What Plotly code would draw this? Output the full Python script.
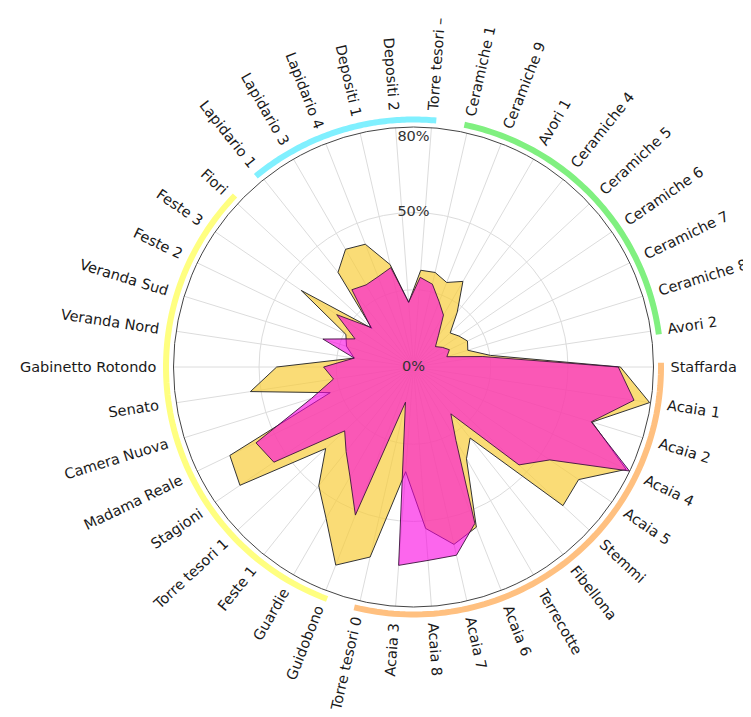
import numpy as np
import plotly.graph_objects as go

# categories clockwise, starting at 3 o'clock
CATEGORIES = [
    "Staffarda", "Acaia 1", "Acaia 2", "Acaia 4", "Acaia 5", "Stemmi", "Fibellona",
    "Terrecotte", "Acaia 6", "Acaia 7", "Acaia 8", "Acaia 3", "Torre tesori 0",
    "Guidobono", "Guardie", "Feste 1", "Torre tesori 1", "Stagioni", "Madama Reale",
    "Camera Nuova", "Senato", "Gabinetto Rotondo", "Veranda Nord", "Veranda Sud",
    "Feste 2", "Feste 3", "Fiori", "Lapidario 1", "Lapidario 3", "Lapidario 4",
    "Depositi 1", "Depositi 2", "Torre tesori –", "Ceramiche 1", "Ceramiche 9",
    "Avori 1", "Ceramiche 4", "Ceramiche 5", "Ceramiche 6", "Ceramiche 7",
    "Ceramiche 8", "Avori 2",
]

# percentages
SERIES_GOLD = [
    67.0, 77.3, 60.5, 76.4, 64.7, 66.0, 29.4, 34.3, 55.7, 58.9, 52.4, 34.0, 63.1,
    68.9, 56.6, 49.2, 38.8, 68.0, 66.0, 28.2, 53.4, 44.3, 19.4, 22.7, 24.3, 44.0,
    18.4, 39.2, 44.0, 42.7, 34.0, 21.0, 31.4, 31.4, 29.4, 32.0, 22.7, 16.2, 17.8,
    19.4, 18.4, 25.2,
]
SERIES_PINK = [
    66.3, 72.2, 60.2, 77.6, 53.4, 46.6, 19.4, 27.5, 54.4, 62.5, 62.8, 64.4, 11.7,
    51.5, 41.1, 35.0, 30.4, 54.7, 56.6, 34.6, 26.2, 29.1, 19.4, 30.7, 21.0, 30.1,
    18.8, 32.0, 30.7, 31.4, 33.0, 21.0, 29.1, 27.5, 22.7, 19.4, 12.9, 9.7, 11.3,
    12.9, 11.3, 22.7,
]

# outer arcs grouping the rooms
GROUPS = [
    ("Staffarda", "Torre tesori 0", "#FFC080"),
    ("Guidobono", "Fiori", "#FFFF80"),
    ("Lapidario 1", "Torre tesori –", "#80F0FF"),
    ("Ceramiche 1", "Avori 2", "#80F080"),
]

RADIAL_LABELS = [0, 50, 80]
GRID_RINGS = [25, 50]

W, H = 751, 717
PAGE_PAD = 8                           # default body margin of the html page
CX, CY = 413.5 - PAGE_PAD, 367 - PAGE_PAD
RADIUS = 240                           # px of the outer circle
ARC_RADIUS = 247.5                     # px of the group arcs
ARC_FRAME = 1.1                        # polar2 range beyond the arcs, avoids clipping
RMAX = 77.7                            # value at the outer circle
LABEL_R = 257                          # px where category labels start
FONT = "DejaVu Sans"

n = len(CATEGORIES)
step = 360 / n
theta = [i * step for i in range(n)]


def domain(rad):
    return dict(x=[(CX - rad) / W, (CX + rad) / W],
                y=[(H - CY - rad) / H, (H - CY + rad) / H])


fig = go.Figure()

fig.add_trace(go.Scatterpolar(
    r=SERIES_GOLD + SERIES_GOLD[:1], theta=theta + theta[:1],
    mode="lines", fill="toself",
    fillcolor="rgba(248,205,60,0.7)",
    line=dict(color="#333333", width=1),
    name="A", hoverinfo="skip",
))
fig.add_trace(go.Scatterpolar(
    r=SERIES_PINK + SERIES_PINK[:1], theta=theta + theta[:1],
    mode="lines", fill="toself",
    fillcolor="rgba(250,0,225,0.6)",
    line=dict(color="rgba(60,20,60,0.9)", width=1),
    name="B", hoverinfo="skip",
))

for first, last, color in GROUPS:
    i0, i1 = CATEGORIES.index(first), CATEGORIES.index(last)
    arc = np.linspace(i0 * step - 1.0, i1 * step + 1.0, 80)
    fig.add_trace(go.Scatterpolar(
        r=[1] * len(arc), theta=arc, mode="lines", subplot="polar2",
        line=dict(color=color, width=6),
        cliponaxis=False, hoverinfo="skip",
    ))

fig.add_trace(go.Scatterpolar(
    r=[min(v, RMAX * 0.955) for v in RADIAL_LABELS],
    theta=[270] * len(RADIAL_LABELS),
    text=[f"{v}%" for v in RADIAL_LABELS],
    mode="text", textposition="middle center",
    textfont=dict(family=FONT, size=14.5, color="#333333"),
    cliponaxis=False, hoverinfo="skip",
))

# radial category labels
annotations = []
for name, t in zip(CATEGORIES, theta):
    a = np.radians(t + 90)            # clockwise from 12 o'clock
    x = (CX + LABEL_R * np.sin(a)) / W
    y = (H - CY + LABEL_R * np.cos(a)) / H
    ghost = f'<span style="color:rgba(0,0,0,0)">{name}</span>'
    deg = (t + 90) % 360
    if deg < 180:
        text, angle = ghost + name, deg - 90
    else:
        text, angle = name + ghost, deg - 270
    annotations.append(dict(
        x=x, y=y, xref="paper", yref="paper", text=text, textangle=angle,
        showarrow=False, xanchor="center", yanchor="middle",
        font=dict(family=FONT, size=14.5, color="#1a1a1a"),
    ))

fig.update_layout(
    width=W, height=H,
    margin=dict(l=0, r=0, t=0, b=0),
    paper_bgcolor="white",
    showlegend=False,
    annotations=annotations,
    polar=dict(
        domain=domain(RADIUS),
        bgcolor="white",
        angularaxis=dict(
            type="linear", rotation=0, direction="clockwise",
            tickmode="array", tickvals=theta, showticklabels=False, ticks="",
            showgrid=True, gridcolor="#dcdcdc", gridwidth=1,
            showline=True, linecolor="#444444", linewidth=1,
        ),
        radialaxis=dict(
            range=[0, RMAX], tickmode="array", tickvals=GRID_RINGS,
            showticklabels=False, ticks="", showline=False,
            showgrid=True, gridcolor="#dcdcdc", gridwidth=1,
        ),
    ),
    polar2=dict(
        domain=domain(ARC_RADIUS * ARC_FRAME),
        bgcolor="rgba(0,0,0,0)",
        angularaxis=dict(type="linear", rotation=0, direction="clockwise",
                         visible=False),
        radialaxis=dict(range=[0, ARC_FRAME], visible=False),
    ),
)

fig.write_html("out.html")
